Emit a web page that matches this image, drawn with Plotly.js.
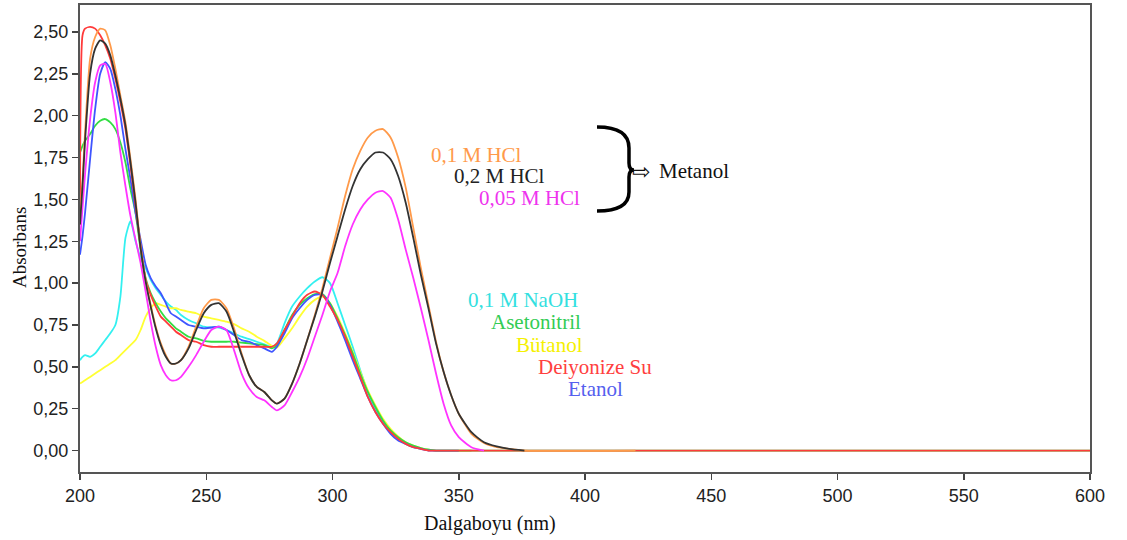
<!DOCTYPE html>
<html>
<head>
<meta charset="utf-8">
<script src="https://cdn.plot.ly/plotly-3.0.1.min.js"></script>
<style>html,body{margin:0;padding:0;background:#fff;}#chart{width:1127px;height:540px;}</style>
</head>
<body>
<div id="chart"></div>
<script>
// Wavelength grid (nm)
const wavelength = [200,201,202,204,206,208,210,212,214,216,218,220,222,224,226,228,230,232,234,236,238,240,243,246,249,252,255,258,261,264,267,270,273,276,278,281,284,287,290,293,296,299,302,305,308,311,314,317,320,323,326,329,332,335,338,341,344,347,350,355,360,365,370,376,420,600];

// Absorbance series
const hcl01 = [1.40,1.62,1.90,2.34,2.47,2.52,2.51,2.42,2.28,2.12,1.96,1.74,1.50,1.22,1.02,0.87,0.74,0.64,0.57,0.52,0.52,0.54,0.62,0.74,0.85,0.90,0.90,0.85,0.73,0.58,0.45,0.38,0.35,0.30,0.28,0.31,0.40,0.52,0.66,0.81,0.97,1.15,1.33,1.52,1.68,1.79,1.87,1.91,1.92,1.87,1.75,1.57,1.33,1.09,0.87,0.65,0.47,0.33,0.22,0.10,0.045,0.02,0.01,0.0,0.0,null];
const hcl02 = [1.35,1.58,1.85,2.25,2.40,2.45,2.43,2.36,2.24,2.10,1.94,1.72,1.48,1.21,1.01,0.86,0.73,0.63,0.56,0.52,0.52,0.54,0.61,0.72,0.82,0.87,0.88,0.83,0.71,0.57,0.45,0.38,0.35,0.30,0.28,0.31,0.40,0.52,0.66,0.80,0.95,1.12,1.28,1.44,1.58,1.68,1.74,1.78,1.78,1.74,1.64,1.48,1.27,1.05,0.85,0.64,0.47,0.33,0.22,0.11,0.05,0.025,0.01,0.0,null,null];
const hcl005 = [1.25,1.45,1.65,1.98,2.20,2.30,2.31,2.20,2.02,1.78,1.58,1.40,1.26,1.12,0.95,0.77,0.62,0.51,0.45,0.42,0.42,0.44,0.50,0.57,0.65,0.72,0.74,0.72,0.60,0.46,0.37,0.32,0.30,0.26,0.24,0.27,0.35,0.44,0.55,0.68,0.81,0.95,1.06,1.22,1.35,1.44,1.50,1.54,1.55,1.51,1.38,1.20,1.03,0.85,0.66,0.46,0.28,0.15,0.08,0.02,0.0,null,null,null,null,null];
const naoh01 = [0.54,0.56,0.57,0.56,0.58,0.62,0.66,0.70,0.75,0.92,1.27,1.37,1.25,1.15,1.09,1.02,0.97,0.93,0.89,0.86,0.84,0.81,0.78,0.76,0.74,0.735,0.735,0.72,0.70,0.68,0.665,0.65,0.635,0.62,0.64,0.76,0.86,0.92,0.97,1.01,1.035,1.00,0.88,0.75,0.62,0.48,0.35,0.25,0.17,0.11,0.075,0.04,0.02,0.01,0.005,0.0,0.0,0.0,0.0,0.0,null,null,null,null,null,null];
const asetonitril = [1.78,1.82,1.85,1.89,1.94,1.97,1.98,1.96,1.92,1.84,1.72,1.56,1.42,1.20,1.03,0.94,0.88,0.83,0.79,0.76,0.73,0.71,0.68,0.67,0.655,0.65,0.65,0.65,0.65,0.645,0.64,0.635,0.63,0.61,0.63,0.72,0.81,0.87,0.91,0.935,0.935,0.88,0.79,0.69,0.58,0.46,0.35,0.26,0.18,0.12,0.08,0.05,0.03,0.015,0.005,0.0,0.0,0.0,0.0,0.0,0.0,0.0,0.0,0.0,0.0,0.0];
const butanol = [0.40,0.41,0.42,0.44,0.46,0.48,0.50,0.52,0.54,0.57,0.60,0.63,0.66,0.72,0.80,0.85,0.88,0.87,0.86,0.85,0.85,0.84,0.83,0.82,0.80,0.79,0.78,0.77,0.755,0.73,0.71,0.68,0.655,0.625,0.615,0.67,0.73,0.80,0.86,0.90,0.92,0.88,0.80,0.70,0.59,0.47,0.36,0.27,0.19,0.13,0.085,0.05,0.03,0.015,0.005,0.0,0.0,0.0,0.0,0.0,null,null,null,null,null,null];
const deiyonizeSu = [1.35,2.48,2.52,2.53,2.52,2.48,2.42,2.34,2.22,2.08,1.92,1.70,1.46,1.22,1.02,0.93,0.86,0.80,0.77,0.74,0.71,0.69,0.66,0.65,0.63,0.62,0.62,0.62,0.62,0.62,0.62,0.62,0.62,0.62,0.64,0.72,0.80,0.88,0.93,0.95,0.93,0.86,0.78,0.68,0.56,0.44,0.32,0.23,0.16,0.11,0.07,0.04,0.02,0.01,0.0,0.0,0.0,0.0,0.0,0.0,0.0,0.0,0.0,0.0,0.0,0.0];
const etanol = [1.17,1.28,1.42,1.74,2.04,2.25,2.32,2.28,2.16,2.00,1.80,1.62,1.42,1.26,1.11,1.03,0.98,0.94,0.88,0.82,0.80,0.78,0.75,0.74,0.73,0.735,0.74,0.72,0.69,0.66,0.65,0.63,0.61,0.59,0.62,0.70,0.79,0.85,0.90,0.93,0.93,0.87,0.77,0.66,0.54,0.43,0.32,0.23,0.16,0.10,0.06,0.04,0.02,0.01,0.0,0.0,0.0,0.0,0.0,null,null,null,null,null,null,null];

const yTickVals = [0,0.25,0.5,0.75,1.0,1.25,1.5,1.75,2.0,2.25,2.5];
const yTickText = ["0,00","0,25","0,50","0,75","1,00","1,25","1,50","1,75","2,00","2,25","2,50"];
const xTickVals = [200,250,300,350,400,450,500,550,600];

const series = [
  {name:"0,1 M NaOH", y:naoh01, color:"#33f0f0"},
  {name:"Bütanol", y:butanol, color:"#ffff33"},
  {name:"Asetonitril", y:asetonitril, color:"#33dd44"},
  {name:"Etanol", y:etanol, color:"#3f55ff"},
  {name:"Deiyonize Su", y:deiyonizeSu, color:"#ff3a3a"},
  {name:"0,05 M HCl", y:hcl005, color:"#ff33ff"},
  {name:"0,1 M HCl", y:hcl01, color:"#ff9a4a"},
  {name:"0,2 M HCl", y:hcl02, color:"#333333"}
];

const traces = series.map(s => ({
  x: wavelength, y: s.y, name: s.name, type: "scatter", mode: "lines",
  line: {color: s.color, width: 1.8, shape: "spline", smoothing: 0.6},
  connectgaps: false, hoverinfo: "x+y+name"
}));

// plot box in pixels (decoration placement helpers)
const L = 80, R = 1090, T = 5, B = 472;
const px = v => (v - L) / (R - L);
const py = v => (B - v) / (B - T);
const SERIF = "Liberation Serif, Times New Roman, serif";
const NARROW = "Liberation Sans Narrow, Liberation Sans, Arial, sans-serif";

function label(text, xPx, yPx, color, opts) {
  return Object.assign({
    text: text, xref: "paper", yref: "paper", x: px(xPx), y: py(yPx),
    xanchor: "left", yanchor: "middle", showarrow: false,
    font: {family: SERIF, size: 21, color: color}
  }, opts || {});
}

const annotations = [
  label("0,1 M HCl", 429, 155, "#ff9a4a"),
  label("0,2 M HCl", 452, 176, "#222222"),
  label("0,05 M HCl", 477, 198, "#ee33ee"),
  label("Metanol", 657, 171, "#111111"),
  label("⇨", 630, 171, "#111111", {font: {family: "DejaVu Sans", size: 22, color: "#111"}}),
  label("0,1 M NaOH", 466, 300, "#33e0e0"),
  label("Asetonitril", 489, 322, "#33cc55"),
  label("Bütanol", 514, 345, "#f5f000"),
  label("Deiyonize Su", 536, 367, "#ff4040"),
  label("Etanol", 566, 389, "#5560ee"),
  label("Absorbans", 20, 248, "#111", {xanchor: "center", textangle: -90, font: {family: SERIF, size: 19, color: "#111"}}),
  label("Dalgaboyu (nm)", 490, 523, "#111", {xanchor: "center", font: {family: SERIF, size: 20, color: "#111"}})
];

// brace path (pixel points -> paper)
const bracePts = [
  ["M",[597,127]],
  ["C",[616,127],[629,133],[629,148]],
  ["L",[629,163]],
  ["C",[629,168],[631,170],[634,170]],
  ["C",[631,170],[629,172],[629,177]],
  ["L",[629,192]],
  ["C",[629,206],[616,211],[597,211]]
];
const bracePath = bracePts.map(c => c[0] + " " + c.slice(1).map(p => px(p[0]).toFixed(5) + "," + py(p[1]).toFixed(5)).join(" ")).join(" ");

const layout = {
  width: 1127, height: 540,
  margin: {l: L, r: 1127 - R, t: T, b: 540 - B},
  paper_bgcolor: "#ffffff", plot_bgcolor: "#ffffff",
  showlegend: false,
  font: {family: NARROW, size: 18, color: "#222"},
  xaxis: {
    range: [200, 600], tickvals: xTickVals, ticktext: xTickVals.map(String),
    ticks: "outside", ticklen: 6, tickwidth: 1.5, tickcolor: "#444",
    showgrid: false, zeroline: false, showline: true, linecolor: "#555", linewidth: 2, mirror: true,
    tickfont: {family: NARROW, size: 18, color: "#222"}
  },
  yaxis: {
    range: [-0.128, 2.661], tickvals: yTickVals, ticktext: yTickText,
    ticks: "outside", ticklen: 6, tickwidth: 1.5, tickcolor: "#444",
    showgrid: false, zeroline: false, showline: true, linecolor: "#555", linewidth: 2, mirror: true,
    tickfont: {family: NARROW, size: 18, color: "#222"}
  },
  annotations: annotations,
  shapes: [{type: "path", xref: "paper", yref: "paper", path: bracePath, line: {color: "#000", width: 3.5}}]
};

Plotly.newPlot("chart", traces, layout, {staticPlot: true, displayModeBar: false});
</script>
</body>
</html>
